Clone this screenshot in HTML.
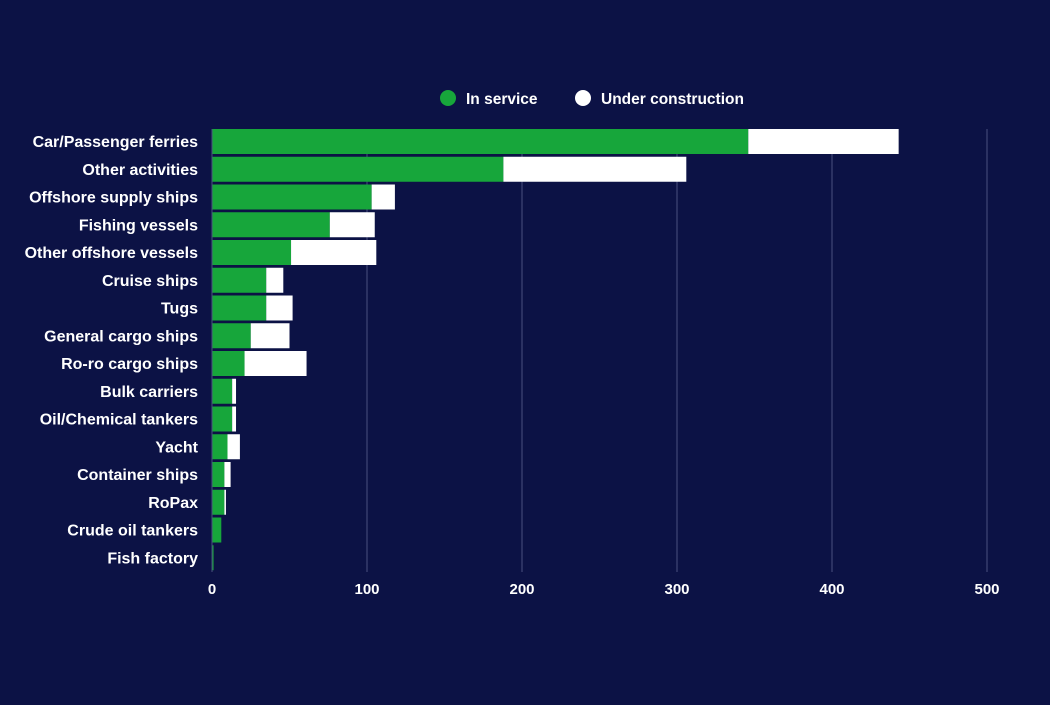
<!DOCTYPE html>
<html><head><meta charset="utf-8"><style>
body{margin:0;background:#0c1245;width:1050px;height:700px;overflow:hidden;font-family:"Liberation Sans",sans-serif}
svg text{font-family:"Liberation Sans",sans-serif;font-weight:bold;fill:#fff}
</style></head><body>
<svg id="c" width="1050" height="700">
<g id="legend">
<circle cx="448" cy="98" r="8" fill="#17a63b"/>
<text x="466" y="104" font-size="15.5">In service</text>
<circle cx="583" cy="98" r="8" fill="#fff"/>
<text x="601" y="104" font-size="15.5">Under construction</text>
</g>
</svg>
<script>
const categories=["Car/Passenger ferries","Other activities","Offshore supply ships","Fishing vessels","Other offshore vessels","Cruise ships","Tugs","General cargo ships","Ro-ro cargo ships","Bulk carriers","Oil/Chemical tankers","Yacht","Container ships","RoPax","Crude oil tankers","Fish factory"];
const inService=[346,188,103,76,51,35,35,25,21,13,13,10,8,8,6,1];
const underConstruction=[97,118,15,29,55,11,17,25,40,2.5,2.5,8,4,1,0,0];
const ticks=[0,100,200,300,400,500];
const svg=document.getElementById('c');const NS="http://www.w3.org/2000/svg";
const x0=212,pxPer=1.55,top0=129,step=27.75,bh=25;
const X=v=>x0+v*pxPer;const Y=i=>top0+i*step;
function el(t,a){const e=document.createElementNS(NS,t);for(const k in a)e.setAttribute(k,a[k]);svg.appendChild(e);return e;}
ticks.forEach(t=>{
 if(t>0){const l=el('line',{x1:X(t),x2:X(t),y1:129,y2:572,stroke:'#4a5080','stroke-width':1});
 
 }
 const tx=el('text',{x:X(t),y:594,'text-anchor':'middle','font-size':15});tx.textContent=t;
 
 
});
categories.forEach((c,i)=>{
 const y=Y(i);
 const g=el('rect',{x:x0,y:y,width:inService[i]*pxPer,height:bh,fill:'#17a63b'});
 
 
 if(underConstruction[i]>0){const w=el('rect',{x:X(inService[i]),y:y,width:underConstruction[i]*pxPer,height:bh,fill:'#fff'});
 
 }
 const t=el('text',{x:198,y:y+bh/2+5.5,'text-anchor':'end','font-size':16});t.textContent=c;
 
 
});
const ax=el('line',{x1:x0,x2:x0,y1:129,y2:572,stroke:'#4a5080','stroke-width':1});


</script>
</body></html>
